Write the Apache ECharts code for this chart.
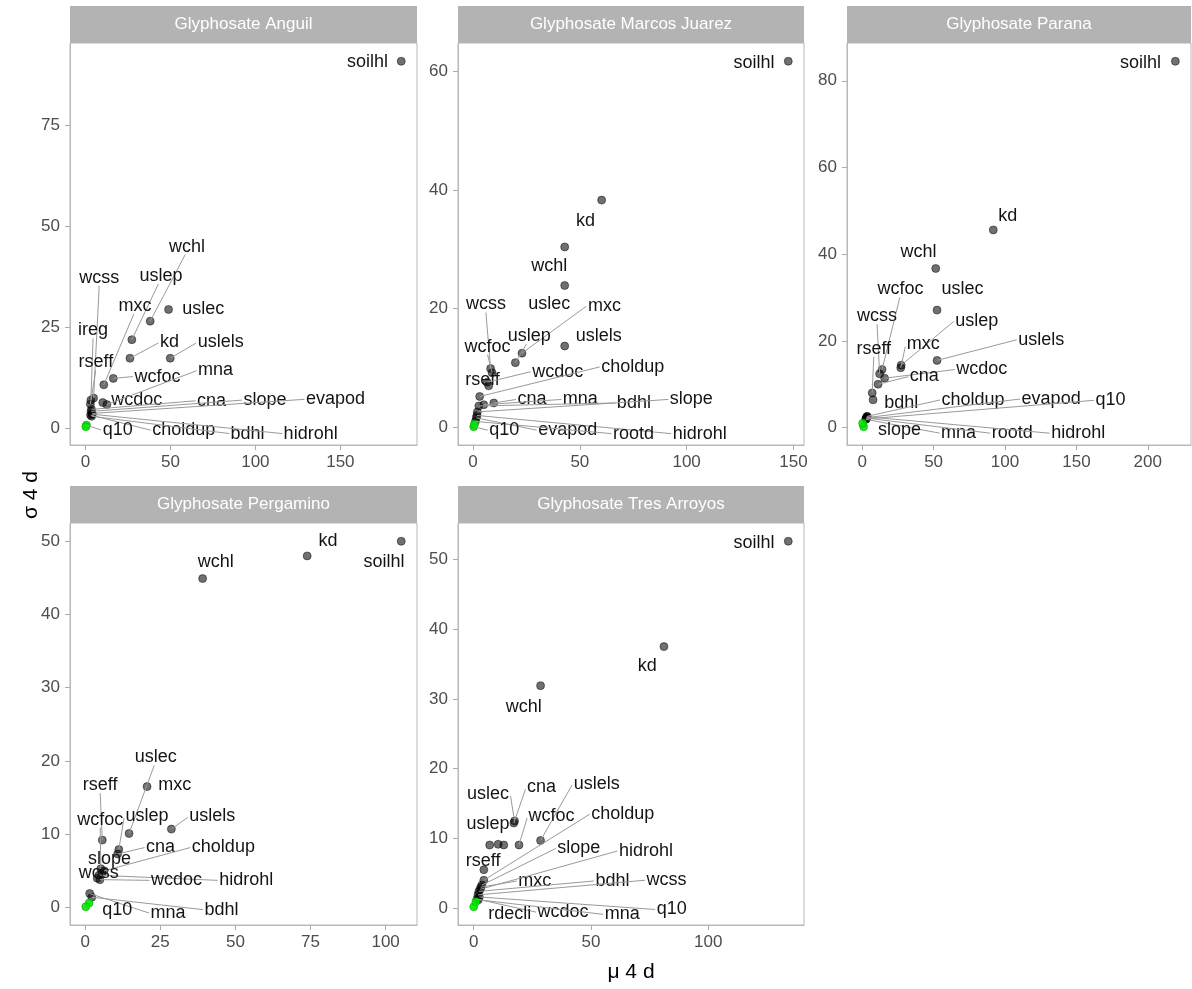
<!DOCTYPE html>
<html>
<head>
<meta charset="utf-8">
<script src="https://cdn.jsdelivr.net/npm/echarts@6/dist/echarts.min.js"></script>
<style>
  html, body { margin: 0; padding: 0; background: #ffffff; }
  #chart { width: 1192px; height: 989px; }
</style>
</head>
<body>
<div id="chart"></div>
<script>
// Elementary-effects screening of glyphosate model parameters, one facet per site:
// mean of absolute effects (mu) against their spread (sigma) after 4 days.

const siteTitles = ['Glyphosate Anguil', 'Glyphosate Marcos Juarez', 'Glyphosate Parana',
                    'Glyphosate Pergamino', 'Glyphosate Tres Arroyos'];

// ---- Anguil: [parameter, mu, sigma]
const anguil = [
  ['soilhl', 185.8, 91.0], ['uslec', 48.9, 29.4], ['wchl', 38.1, 26.5], ['uslep', 27.3, 21.9],
  ['kd', 26.2, 17.3], ['uslels', 49.9, 17.3], ['wcfoc', 16.4, 12.3], ['mxc', 10.8, 10.7],
  ['wcss', 4.8, 7.4], ['ireg', 3.2, 6.9], ['rseff', 2.9, 5.9], ['wcdoc', 10.2, 6.3],
  ['mna', 12.6, 5.8], ['cna', 3.6, 4.6], ['slope', 3.3, 4.1], ['evapod', 3.9, 3.6],
  ['choldup', 3.0, 3.2], ['bdhl', 3.6, 2.9], ['hidrohl', 4.1, 3.4]
];
const anguilInert = [['q10', 0.6, 0.7], ['', 0.2, 0.3]];
const anguilXTicks = [0, 50, 100, 150];
const anguilYTicks = [0, 25, 50, 75];

// ---- Marcos Juarez
const marcosJuarez = [
  ['soilhl', 147.6, 61.7], ['kd', 60.2, 38.3], ['wchl', 42.9, 30.4], ['uslec', 42.9, 23.9],
  ['uslels', 42.9, 13.7], ['mxc', 22.9, 12.5], ['uslep', 19.8, 10.9], ['wcss', 8.2, 9.9],
  ['wcfoc', 8.9, 9.2], ['rseff', 7.3, 7.0], ['wcdoc', 6.6, 7.6], ['choldup', 3.1, 5.2],
  ['cna', 9.7, 4.1], ['mna', 5.0, 3.8], ['bdhl', 2.7, 3.6], ['slope', 2.0, 2.6],
  ['hidrohl', 1.8, 2.0], ['evapod', 1.5, 1.6], ['rootd', 1.1, 1.0]
];
const marcosJuarezInert = [['q10', 0.3, 0.1], ['', 0.6, 0.5]];
const marcosJuarezXTicks = [0, 50, 100, 150];
const marcosJuarezYTicks = [0, 20, 40, 60];

// ---- Parana
const parana = [
  ['soilhl', 219.3, 84.5], ['kd', 91.8, 45.6], ['wchl', 51.5, 36.7], ['uslec', 52.4, 27.1],
  ['uslels', 52.4, 15.5], ['uslep', 27.3, 14.4], ['mxc', 27.0, 13.8], ['wcfoc', 13.9, 13.4],
  ['wcss', 12.2, 12.4], ['wcdoc', 15.7, 11.4], ['cna', 11.1, 10.0], ['rseff', 7.0, 8.0],
  ['bdhl', 7.6, 6.4], ['choldup', 3.5, 2.6], ['evapod', 3.2, 2.3], ['q10', 2.9, 2.0],
  ['mna', 2.5, 1.9], ['rootd', 2.7, 2.2], ['hidrohl', 3.3, 2.5]
];
const paranaInert = [['slope', 1.0, 0.2], ['', 0.3, 1.0]];
const paranaXTicks = [0, 50, 100, 150, 200];
const paranaYTicks = [0, 20, 40, 60, 80];

// ---- Pergamino
const pergamino = [
  ['soilhl', 105.2, 50.0], ['kd', 73.9, 48.0], ['wchl', 39.1, 44.9], ['mxc', 20.6, 16.5],
  ['uslels', 28.7, 10.7], ['uslec', 14.6, 10.1], ['rseff', 5.7, 9.2], ['uslep', 11.2, 7.9],
  ['cna', 10.8, 7.3], ['choldup', 6.3, 5.0], ['wcfoc', 5.2, 5.3], ['slope', 5.6, 4.7],
  ['hidrohl', 4.6, 4.4], ['wcss', 4.0, 4.0], ['wcdoc', 4.9, 3.8], ['mna', 1.5, 1.9],
  ['bdhl', 2.2, 1.4]
];
const pergaminoInert = [['q10', 1.3, 0.6], ['', 0.2, 0.1]];
const pergaminoXTicks = [0, 25, 50, 75, 100];
const pergaminoYTicks = [0, 10, 20, 30, 40, 50];

// ---- Tres Arroyos
const tresArroyos = [
  ['soilhl', 134.1, 52.6], ['kd', 81.1, 37.5], ['wchl', 28.5, 31.9], ['uslec', 17.4, 12.5],
  ['cna', 17.1, 12.2], ['uslels', 28.5, 9.7], ['wcfoc', 19.3, 9.05], ['uslep', 12.8, 9.05],
  ['', 10.4, 9.15], ['', 6.8, 9.05], ['rseff', 4.3, 5.5], ['choldup', 4.3, 4.0],
  ['slope', 3.5, 3.3], ['mxc', 3.0, 3.0], ['hidrohl', 2.8, 2.7], ['bdhl', 2.2, 2.4],
  ['wcss', 1.8, 1.9], ['q10', 2.4, 1.6], ['wcdoc', 1.4, 1.3], ['mna', 2.0, 1.2]
];
const tresArroyosInert = [['rdecli', 0.0, 0.2], ['', 0.9, 0.9]];
const tresArroyosXTicks = [0, 50, 100];
const tresArroyosYTicks = [0, 10, 20, 30, 40, 50];

// Where each repelled text label sits, in (mu, sigma) units of its panel.
const anguilLabelAt = {
  soilhl: [166.0, 90.7], wchl: [59.8, 45.0], uslep: [44.4, 37.75], wcss: [8.1, 37.2],
  mxc: [29.2, 30.25], uslec: [69.3, 29.4], ireg: [4.5, 24.2], kd: [49.5, 21.3],
  uslels: [79.6, 21.3], rseff: [6.1, 16.3], mna: [76.6, 14.25], wcfoc: [42.4, 12.75],
  wcdoc: [30.2, 6.9], cna: [74.2, 6.75], slope: [105.6, 6.9], evapod: [147.1, 7.1],
  q10: [19.0, -0.6], choldup: [57.8, -0.6], bdhl: [95.4, -1.4], hidrohl: [132.5, -1.4]
};
const marcosJuarezLabelAt = {
  soilhl: [131.5, 61.4], kd: [52.6, 34.8], wchl: [35.7, 27.15], wcss: [6.0, 20.7],
  uslec: [35.7, 20.7], mxc: [61.5, 20.5], uslep: [26.3, 15.4], uslels: [58.8, 15.4],
  wcfoc: [6.7, 13.6], choldup: [74.8, 10.2], wcdoc: [39.6, 9.4], rseff: [4.4, 8.0],
  cna: [27.6, 4.7], mna: [50.2, 4.7], bdhl: [75.3, 4.1], slope: [102.2, 4.7],
  q10: [14.6, -0.5], evapod: [44.3, -0.5], rootd: [75.1, -1.07], hidrohl: [106.1, -1.07]
};
const paranaLabelAt = {
  soilhl: [194.9, 84.1], kd: [101.9, 48.9], wchl: [39.4, 40.4], wcfoc: [26.8, 31.9],
  uslec: [70.2, 31.9], wcss: [10.4, 25.7], uslep: [80.2, 24.6], rseff: [8.1, 18.2],
  mxc: [42.8, 19.3], uslels: [125.4, 20.3], wcdoc: [83.7, 13.4], cna: [43.5, 11.8],
  bdhl: [27.3, 5.6], choldup: [77.6, 6.4], evapod: [132.3, 6.6], q10: [173.9, 6.3],
  slope: [26.1, -0.5], mna: [67.5, -1.3], rootd: [105.0, -1.3], hidrohl: [151.3, -1.3]
};
const pergaminoLabelAt = {
  kd: [80.8, 50.1], soilhl: [99.5, 47.1], wchl: [43.5, 47.1], uslec: [23.5, 20.5],
  rseff: [5.0, 16.7], mxc: [29.8, 16.7], wcfoc: [5.0, 12.0], uslep: [20.6, 12.5],
  uslels: [42.3, 12.5], cna: [25.1, 8.2], choldup: [46.0, 8.2], slope: [8.1, 6.6],
  wcss: [4.5, 4.7], wcdoc: [30.4, 3.7], hidrohl: [53.6, 3.7], q10: [10.7, -0.3],
  mna: [27.6, -0.8], bdhl: [45.4, -0.3]
};
const tresArroyosLabelAt = {
  soilhl: [119.5, 52.4], kd: [74.0, 34.7], wchl: [21.3, 28.9], uslels: [52.4, 17.8],
  cna: [28.9, 17.3], uslec: [6.1, 16.4], uslep: [6.1, 12.0], wcfoc: [33.2, 13.2],
  choldup: [63.5, 13.5], rseff: [4.0, 6.8], slope: [44.8, 8.6], hidrohl: [73.4, 8.2],
  mxc: [26.0, 3.9], bdhl: [59.2, 3.9], wcss: [82.2, 4.0], rdecli: [15.4, -0.8],
  wcdoc: [38.1, -0.6], mna: [63.3, -0.9], q10: [84.4, -0.2]
};

const panels = [
  { pts: anguil, inert: anguilInert, labelAt: anguilLabelAt, xt: anguilXTicks, yt: anguilYTicks },
  { pts: marcosJuarez, inert: marcosJuarezInert, labelAt: marcosJuarezLabelAt, xt: marcosJuarezXTicks, yt: marcosJuarezYTicks },
  { pts: parana, inert: paranaInert, labelAt: paranaLabelAt, xt: paranaXTicks, yt: paranaYTicks },
  { pts: pergamino, inert: pergaminoInert, labelAt: pergaminoLabelAt, xt: pergaminoXTicks, yt: pergaminoYTicks },
  { pts: tresArroyos, inert: tresArroyosInert, labelAt: tresArroyosLabelAt, xt: tresArroyosXTicks, yt: tresArroyosYTicks }
];

// Facet layout: [left, top, width, height] of each panel body, strip sits above it.
const panelBoxes = [
  [70, 43, 347, 402], [458, 43, 346, 402], [847, 43, 344, 402],
  [70, 523, 347, 402], [458, 523, 346, 402]
];
const stripHeight = 37;

const FONT = '"Liberation Sans", Arial, Helvetica, sans-serif';
const LABEL_SIZE = 18;
const MIN_SEGMENT = 14;
const measureCtx = document.createElement('canvas').getContext('2d');
measureCtx.font = LABEL_SIZE + 'px ' + FONT;

// Continuous scale with 5% expansion on each side of the data range.
function expandedRange(vals) {
  const lo = Math.min.apply(null, vals), hi = Math.max.apply(null, vals);
  const pad = (hi - lo) * 0.05;
  return [lo - pad, hi + pad];
}

// Segment end on the label box: nearest box point, nudged toward the box centre.
// Returns [x, y, distance from the point to the nearest box point].
function connectorEnd(p, b) {
  let ox, oy, left = false, right = false, top = false, bottom = false;
  if (p[0] >= b[0] && p[0] <= b[2]) ox = p[0];
  else if (p[0] > b[2]) { ox = b[2]; right = true; }
  else { ox = b[0]; left = true; }
  if (p[1] >= b[1] && p[1] <= b[3]) oy = p[1];
  else if (p[1] > b[3]) { oy = b[3]; bottom = true; }
  else { oy = b[1]; top = true; }
  const midx = (b[0] + b[2]) / 2, midy = (b[1] + b[3]) / 2;
  const d = Math.hypot(p[0] - ox, p[1] - oy);
  if ((top || bottom) && !(left || right)) {
    const alt = Math.hypot(p[0] - midx, p[1] - oy);
    if (alt > 0) ox = ox + (midx - ox) * d / alt;
  } else if ((left || right) && !(top || bottom)) {
    const alt = Math.hypot(p[0] - ox, p[1] - midy);
    if (alt > 0) oy = oy + (midy - oy) * d / alt;
  } else if ((left || right) && (top || bottom)) {
    const alt1 = Math.hypot(p[0] - midx, p[1] - oy);
    const alt2 = Math.hypot(p[0] - ox, p[1] - midy);
    if (alt1 < alt2) ox = ox + (midx - ox) * d / alt1;
    else oy = oy + (midy - oy) * d / alt2;
  }
  return [ox, oy, d];
}

function makeLabelRenderer(items) {
  return function (params, api) {
    const it = items[params.dataIndex];
    const p = api.coord([api.value(0), api.value(1)]);
    const c = api.coord([api.value(2), api.value(3)]);
    const w = measureCtx.measureText(it.name).width;
    const hw = w / 2 + 1.5, hh = 8;
    const box = [c[0] - hw, c[1] - hh, c[0] + hw, c[1] + hh];
    const children = [];
    const e = connectorEnd(p, box);
    if (e[2] > MIN_SEGMENT) {
      children.push({
        type: 'line',
        shape: { x1: p[0], y1: p[1], x2: e[0], y2: e[1] },
        style: { stroke: '#9a9a9a', lineWidth: 1 },
        silent: true
      });
    }
    children.push({
      type: 'text',
      style: {
        text: it.name, x: c[0], y: c[1], align: 'center', verticalAlign: 'middle',
        font: LABEL_SIZE + 'px ' + FONT, fill: '#141414'
      },
      silent: true
    });
    return { type: 'group', children: children };
  };
}

const grids = [], xAxes = [], yAxes = [], series = [], graphics = [];

panels.forEach(function (pn, i) {
  const box = panelBoxes[i];
  const all = pn.pts.concat(pn.inert);
  const xr = expandedRange(all.map(function (r) { return r[1]; }));
  const yr = expandedRange(all.map(function (r) { return r[2]; }));

  grids.push({
    left: box[0], top: box[1], width: box[2], height: box[3],
    show: true, borderColor: '#b8b8b8', borderWidth: 1, backgroundColor: '#ffffff'
  });

  const tickStyle = { show: true, length: 5, lineStyle: { color: '#ababab', width: 1 } };
  const labelStyle = { color: '#4d4d4d', fontSize: 17, fontFamily: FONT };

  xAxes.push({
    type: 'value', gridIndex: i, min: xr[0], max: xr[1],
    axisLine: { show: true, onZero: false, lineStyle: { color: '#b8b8b8' } },
    splitLine: { show: false },
    axisTick: Object.assign({ customValues: pn.xt }, tickStyle),
    axisLabel: Object.assign({ customValues: pn.xt, margin: 9 }, labelStyle)
  });
  yAxes.push({
    type: 'value', gridIndex: i, min: yr[0], max: yr[1],
    axisLine: { show: true, onZero: false, lineStyle: { color: '#b8b8b8' } },
    splitLine: { show: false },
    axisTick: Object.assign({ customValues: pn.yt }, tickStyle),
    axisLabel: Object.assign({ customValues: pn.yt, margin: 10 }, labelStyle)
  });

  series.push({
    type: 'scatter', xAxisIndex: i, yAxisIndex: i, symbol: 'circle', symbolSize: 8, z: 2,
    silent: true,
    itemStyle: { color: 'rgba(0,0,0,0.56)', borderColor: 'rgba(0,0,0,0.45)', borderWidth: 1, opacity: 1 },
    data: pn.pts.map(function (r) { return [r[1], r[2]]; })
  });
  series.push({
    type: 'scatter', xAxisIndex: i, yAxisIndex: i, symbol: 'circle', symbolSize: 8, z: 2,
    silent: true,
    itemStyle: { color: 'rgba(0,232,0,0.9)', borderColor: 'rgba(0,140,0,0.45)', borderWidth: 1, opacity: 1 },
    data: pn.inert.map(function (r) { return [r[1], r[2]]; })
  });

  const items = all.filter(function (r) { return r[0] && pn.labelAt[r[0]]; })
    .map(function (r) { return { name: r[0], mu: r[1], sigma: r[2], at: pn.labelAt[r[0]] }; });
  series.push({
    type: 'custom', xAxisIndex: i, yAxisIndex: i, z: 3, clip: false, silent: true,
    renderItem: makeLabelRenderer(items),
    data: items.map(function (it) { return [it.mu, it.sigma, it.at[0], it.at[1]]; })
  });

  // facet strip
  graphics.push({
    type: 'rect', silent: true, z: 10,
    shape: { x: box[0], y: box[1] - stripHeight, width: box[2], height: stripHeight },
    style: { fill: '#b3b3b3', stroke: null }
  });
  graphics.push({
    type: 'text', silent: true, z: 11,
    x: box[0] + box[2] / 2, y: box[1] - stripHeight / 2,
    style: { text: siteTitles[i], fill: '#ffffff', font: '17px ' + FONT, align: 'center', verticalAlign: 'middle' }
  });
});

// axis titles shared by all facets
graphics.push({
  type: 'text', silent: true, x: 631, y: 972,
  style: { text: 'μ 4 d', fill: '#000000', font: '21px ' + FONT, align: 'center', verticalAlign: 'middle' }
});
graphics.push({
  type: 'text', silent: true, x: 31, y: 495, rotation: Math.PI / 2,
  style: { text: 'σ 4 d', fill: '#000000', font: '21px ' + FONT, align: 'center', verticalAlign: 'middle' }
});

const chart = echarts.init(document.getElementById('chart'), null, { renderer: 'canvas' });
chart.setOption({
  backgroundColor: '#ffffff',
  animation: false,
  grid: grids,
  xAxis: xAxes,
  yAxis: yAxes,
  series: series,
  graphic: graphics
});
</script>
</body>
</html>
